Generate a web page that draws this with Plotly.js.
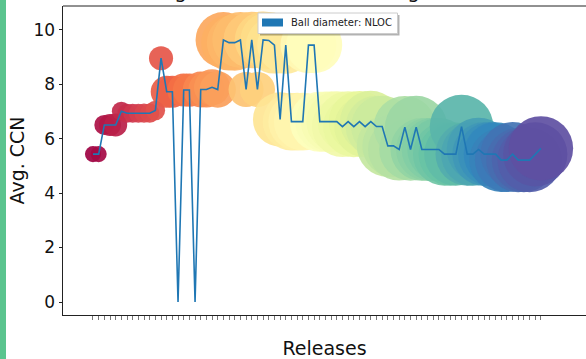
<!DOCTYPE html>
<html><head><meta charset="utf-8">
<script src="https://cdn.plot.ly/plotly-3.0.1.min.js"></script>
<style>html,body{margin:0;padding:0;background:#fff;overflow:hidden}#chart{width:586px;height:359px}</style>
</head><body><div id="chart"></div>
<script>
// Release index (x), one per tick
const releases = [0,1,2,3,4,5,6,7,8,9,10,11,12,13,14,15,16,17,18,19,20,21,22,23,24,25,26,27,28,29,30,31,32,33,34,35,36,37,38,39,40,41,42,43,44,45,46,47,48,49,50,51,52,53,54,55,56,57,58,59,60,61,62,63,64,65,66,67,68,69,70,71,72,73,74,75,76,77,78,79];
// Average cyclomatic complexity per release
const avgCCN = [5.43,5.43,6.5,6.5,6.5,7.0,6.93,6.93,6.93,6.93,6.93,7.03,8.95,7.72,7.72,0,7.78,7.78,0,7.8,7.8,7.88,7.8,9.62,9.52,9.52,9.62,7.8,9.62,7.8,9.62,9.6,9.43,6.7,9.43,6.62,6.62,6.62,9.43,9.43,6.62,6.62,6.62,6.62,6.44,6.62,6.44,6.62,6.44,6.62,6.44,6.44,5.73,5.73,5.6,6.42,5.6,6.42,5.6,5.6,5.6,5.6,5.43,5.43,5.43,6.44,5.43,5.43,5.6,5.43,5.43,5.43,5.21,5.21,5.43,5.21,5.21,5.21,5.42,5.64];
// NLOC per release (ball size)
const nloc = [2600,2600,4000,4800,5300,3600,3600,3650,3650,3700,3700,3800,5800,10200,10300,0,10900,11000,0,12900,13000,13100,13200,31000,31200,31300,31500,12300,32000,12400,32200,32400,32500,29500,32600,33000,33200,33400,31500,31600,36000,36200,36500,36800,37000,37200,37400,37600,37800,38000,38100,38200,38500,38600,38800,39000,39100,39200,39400,39500,39600,39800,39900,40000,40100,40500,40200,40300,40400,40500,40600,40700,40800,40900,41000,41100,41200,41300,41400,41500];
const yTicks = [0,2,4,6,8,10];
const titleText = 'Average CCN evolution through releases';
const xTitle = 'Releases';
const yTitle = 'Avg. CCN';
const legendLabel = 'Ball diameter: NLOC';

const spectral = [
  [0.0,'rgb(158,1,66)'],[0.1,'rgb(213,62,79)'],[0.2,'rgb(244,109,67)'],[0.3,'rgb(253,174,97)'],
  [0.4,'rgb(254,224,139)'],[0.5,'rgb(255,255,191)'],[0.6,'rgb(230,245,152)'],[0.7,'rgb(171,221,164)'],
  [0.8,'rgb(102,194,165)'],[0.9,'rgb(50,136,189)'],[1.0,'rgb(94,79,162)']
];

const W = 586, H = 359, L = 63, R = 0, T = 6, B = 44;
const pw = W - L - R, ph = H - T - B;
const px = x => (x - L) / pw;
const py = y => (H - B - y) / ph;

const bubbles = {
  type: 'scatter', mode: 'markers', x: releases, y: avgCCN, hoverinfo: 'skip',
  marker: { size: nloc, sizemode: 'area', sizeref: 20, sizemin: 0,
    color: releases, colorscale: spectral, cmin: 0, cmax: releases.length - 1,
    opacity: 0.92, line: { width: 0 } }
};
const line = {
  type: 'scatter', mode: 'lines', x: releases, y: avgCCN, hoverinfo: 'skip',
  line: { color: '#1f77b4', width: 1.6 }
};

const font = 'DejaVu Sans, sans-serif';
const layout = {
  width: W, height: H, margin: { l: L, r: R, t: T, b: B, autoexpand: false },
  paper_bgcolor: '#fff', plot_bgcolor: '#fff', showlegend: false,
  xaxis: { range: [-5.29, 86.95], tickvals: releases, showticklabels: false, ticks: 'outside',
    ticklen: 3.5, tickwidth: 0.8, tickcolor: '#555', showline: true, linecolor: '#222', linewidth: 1,
    showgrid: false, zeroline: false,
    title: { text: xTitle, font: { family: font, size: 19, color: '#111' }, standoff: 23 } },
  yaxis: { range: [-0.477, 10.866], tickvals: yTicks, ticks: 'outside', ticklen: 3.5, tickwidth: 1,
    tickcolor: '#222', showline: true, linecolor: '#222', linewidth: 1, showgrid: false, zeroline: false,
    tickfont: { family: font, size: 17, color: '#111' },
    title: { text: yTitle, font: { family: font, size: 19, color: '#111' }, standoff: 3 } },
  shapes: [
    { type: 'rect', xref: 'paper', yref: 'paper', x0: px(0), x1: px(6), y0: py(H), y1: py(0),
      fillcolor: '#5ac48e', line: { width: 0 } },
    { type: 'line', xref: 'paper', yref: 'paper', x0: 0, x1: 1, y0: 1, y1: 1, line: { color: '#222', width: 1 } },
    { type: 'rect', xref: 'paper', yref: 'paper', x0: px(260), x1: px(399.5), y0: py(35.5), y1: py(15),
      fillcolor: 'rgba(0,0,0,0.3)', line: { width: 0 } },
    { type: 'rect', xref: 'paper', yref: 'paper', x0: px(258), x1: px(397.5), y0: py(33.5), y1: py(13),
      fillcolor: '#fff', line: { color: '#ccc', width: 1 } },
    { type: 'rect', xref: 'paper', yref: 'paper', x0: px(262), x1: px(283), y0: py(26.5), y1: py(18.5),
      fillcolor: '#1f77b4', line: { width: 0 } }
  ],
  annotations: [
    { text: titleText, xref: 'paper', yref: 'paper', x: px(319), y: py(5), xanchor: 'center', yanchor: 'bottom',
      showarrow: false, font: { family: font, size: 20, color: '#111' } },
    { text: legendLabel, xref: 'paper', yref: 'paper', x: px(289), y: py(22.8), xanchor: 'left', yanchor: 'middle',
      showarrow: false, font: { family: font, size: 10, color: '#222' } }
  ]
};

Plotly.newPlot('chart', [bubbles, line], layout, { displayModeBar: false, staticPlot: true });
</script></body></html>
